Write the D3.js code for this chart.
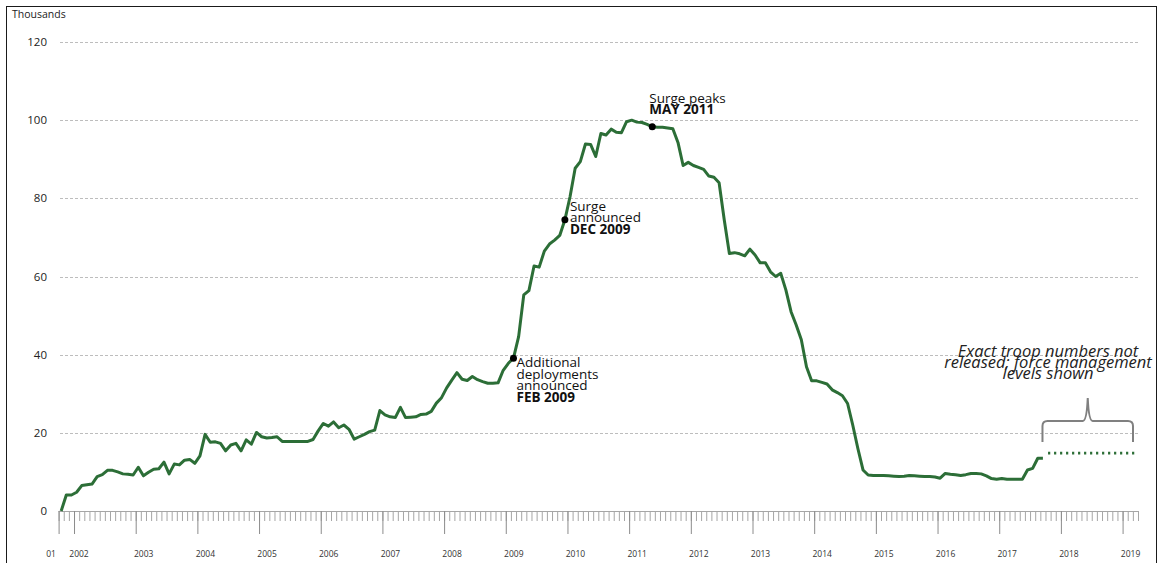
<!DOCTYPE html>
<html>
<head>
<meta charset="utf-8">
<title>Troop levels</title>
<script src="https://d3js.org/d3.v7.min.js"></script>
<style>
  html, body { margin: 0; background: #fff; }
  svg { display: block; font-family: "Open Sans", sans-serif; }
</style>
</head>
<body>
<script>
// one value per month, month 0 = Oct 2001 (thousands of troops)
var troops = [
  0, 4.1, 4.1, 4.8, 6.5, 6.7, 6.9, 8.8, 9.3, 10.4,
  10.4, 10.0, 9.5, 9.4, 9.2, 11.2, 9.0, 9.9, 10.7, 10.8,
  12.5, 9.5, 12.0, 11.8, 13.0, 13.2, 12.2, 14.1, 19.6, 17.6,
  17.7, 17.3, 15.4, 16.9, 17.3, 15.4, 18.2, 17.1, 20.1, 19.0,
  18.7, 18.8, 19.0, 17.8, 17.8, 17.8, 17.8, 17.8, 17.8, 18.3,
  20.5, 22.4, 21.7, 22.8, 21.3, 22.0, 20.9, 18.4, 19.0, 19.6,
  20.3, 20.7, 25.7, 24.6, 24.1, 23.9, 26.5, 23.9, 24.0, 24.1,
  24.7, 24.8, 25.5, 27.6, 29.0, 31.5, 33.5, 35.4, 33.7, 33.4,
  34.4, 33.6, 33.1, 32.7, 32.7, 32.8, 36.0, 37.8, 39.1, 44.6,
  55.3, 56.4, 62.7, 62.4, 66.5, 68.3, 69.3, 70.5, 74.5, 80.4,
  87.7, 89.4, 93.9, 93.8, 90.7, 96.6, 96.2, 97.7, 96.9, 96.8,
  99.6, 100.0, 99.5, 99.4, 98.9, 98.3, 98.2, 98.2, 98.0, 97.8,
  94.3, 88.4, 89.2, 88.4, 87.9, 87.4, 85.7, 85.4, 84.0, 74.5,
  65.9, 66.1, 65.8, 65.3, 67.0, 65.5, 63.5, 63.5, 61.2, 60.0,
  60.8, 56.5, 51.0, 47.6, 43.8, 36.9, 33.3, 33.3, 32.9, 32.5,
  31.0, 30.3, 29.5, 27.5, 22.0, 16.0, 10.5, 9.2, 9.1, 9.1,
  9.1, 9.0, 8.9, 8.8, 8.9, 9.1, 9.0, 8.9, 8.8, 8.8,
  8.7, 8.4, 9.6, 9.4, 9.3, 9.1, 9.3, 9.6, 9.6, 9.5,
  9.0, 8.3, 8.1, 8.3, 8.1, 8.1, 8.1, 8.1, 10.5, 10.9,
  13.5, 13.5
];
// force management level, months 192 (Oct 2017) .. 209 (Mar 2019)
var plannedMonths = d3.range(192, 210);
var plannedLevel = 14.8;

var yTicks = [0, 20, 40, 60, 80, 100, 120];
var yearLabels = ["2002","2003","2004","2005","2006","2007","2008","2009","2010",
                  "2011","2012","2013","2014","2015","2016","2017","2018","2019"];
var yearStartMonths = d3.range(3, 210, 12);   // January of each year
var totalMonths = 210;

var events = [
  {month: 88,  lines: ["Additional", "deployments", "announced"], bold: "FEB 2009", dx: 3,  dy: 9},
  {month: 98,  lines: ["Surge", "announced"],                     bold: "DEC 2009", dx: 5,  dy: -9},
  {month: 115, lines: ["Surge peaks"],                            bold: "MAY 2011", dx: -3, dy: -24}
];
var noteLines = ["Exact troop numbers not", "released; force management", "levels shown"];

var W = 1159, H = 563;
var svg = d3.select("body").append("svg").attr("width", W).attr("height", H);

var x = d3.scaleLinear().domain([0, totalMonths]).range([58.6, 1138]);
var y = d3.scaleLinear().domain([0, 120]).range([511, 42]);

// frame
svg.append("rect").attr("x", 6.5).attr("y", 6.5).attr("width", 1150).attr("height", 620)
   .attr("fill", "none").attr("stroke", "#1a1a1a").attr("stroke-width", 1);

svg.append("text").attr("x", 12).attr("y", 18).attr("font-size", 10.5).attr("fill", "#222")
   .text("Thousands");

// gridlines
svg.append("g").selectAll("line").data(yTicks.filter(function(d) { return d > 0; }))
  .enter().append("line")
  .attr("x1", 60).attr("x2", 1138)
  .attr("y1", function(d) { return Math.round(y(d)) + 0.5; })
  .attr("y2", function(d) { return Math.round(y(d)) + 0.5; })
  .attr("stroke", "#bdbdbd").attr("stroke-dasharray", "3,2");

svg.append("g").selectAll("text").data(yTicks).enter().append("text")
  .attr("x", 47).attr("y", function(d) { return y(d); }).attr("dy", "0.35em")
  .attr("text-anchor", "end").attr("font-size", 11.5).attr("fill", "#222")
  .text(function(d) { return d; });

// x axis: monthly minor ticks, yearly major ticks
var minorAxis = d3.axisBottom(x).tickValues(d3.range(0, totalMonths + 1))
  .tickSize(10).tickFormat("");
var gMinor = svg.append("g").attr("transform", "translate(0,511)").call(minorAxis);
gMinor.select(".domain").attr("stroke", "#a6a6a6").attr("d", "M" + x(0) + ",0.5H" + x(totalMonths));
gMinor.selectAll(".tick line").attr("stroke", "#a6a6a6");

var majorAxis = d3.axisBottom(x).tickValues([0].concat(yearStartMonths))
  .tickSize(23).tickFormat("");
var gMajor = svg.append("g").attr("transform", "translate(0,511)").call(majorAxis);
gMajor.select(".domain").remove();
gMajor.selectAll(".tick line").attr("stroke", "#8c8c8c");

svg.append("g").selectAll("text").data(yearLabels).enter().append("text")
  .attr("x", function(d, i) { return x(yearStartMonths[i]) + (i === 0 ? 5 : 8); })
  .attr("y", 557).attr("text-anchor", "middle").attr("font-size", 8.5).attr("fill", "#333")
  .text(function(d) { return d; });
svg.append("text").attr("x", 51).attr("y", 557).attr("text-anchor", "middle")
  .attr("font-size", 8.5).attr("fill", "#333").text("01");

// troop line
var line = d3.line()
  .x(function(d, i) { return x(i + 0.5); })
  .y(function(d) { return y(d); });
svg.append("path").datum(troops).attr("d", line)
  .attr("fill", "none").attr("stroke", "#2c6e37").attr("stroke-width", 3)
  .attr("stroke-linejoin", "round");

// planned force level (dotted)
svg.append("path").datum(plannedMonths)
  .attr("d", d3.line().x(function(m) { return x(m + 0.5); }).y(function() { return y(plannedLevel); }))
  .attr("fill", "none").attr("stroke", "#2c6e37").attr("stroke-width", 2.6)
  .attr("stroke-dasharray", "2.2,3.8");

// bracket
var bl = x(plannedMonths[0]) - 3, br = x(plannedMonths[plannedMonths.length - 1] + 1) - 5;
var bm = (bl + br) / 2, bTop = 421, bBot = 442, bTip = 398;
svg.append("path")
  .attr("d", "M" + bl + "," + bBot + "V" + (bTop + 5) + "Q" + bl + "," + bTop + " " + (bl + 5) + "," + bTop +
             "H" + (bm - 5) + "Q" + (bm - 1) + "," + bTop + " " + bm + "," + bTip +
             "Q" + (bm + 1) + "," + bTop + " " + (bm + 5) + "," + bTop +
             "H" + (br - 5) + "Q" + br + "," + bTop + " " + br + "," + (bTop + 5) + "V" + bBot)
  .attr("fill", "none").attr("stroke", "#808080").attr("stroke-width", 2);

var note = svg.append("text").attr("font-size", 16.5).attr("font-style", "italic")
  .attr("fill", "#222").attr("text-anchor", "middle");
noteLines.forEach(function(t, i) {
  note.append("tspan").attr("x", 1048).attr("y", 357 + i * 11).text(t);
});

// event markers
var ev = svg.append("g").selectAll("g").data(events).enter().append("g");
ev.append("circle")
  .attr("cx", function(d) { return x(d.month + 0.5); })
  .attr("cy", function(d) { return y(troops[d.month]); })
  .attr("r", 3.5).attr("fill", "#000");
ev.each(function(d) {
  var g = d3.select(this);
  var tx = x(d.month + 0.5) + d.dx, ty = y(troops[d.month]) + d.dy;
  var t = g.append("text").attr("font-size", 13.5).attr("fill", "#111");
  d.lines.forEach(function(s, i) {
    t.append("tspan").attr("x", tx).attr("y", ty + i * 11.6).text(s);
  });
  t.append("tspan").attr("x", tx).attr("y", ty + d.lines.length * 11.6)
    .attr("font-weight", "bold").text(d.bold);
});
</script>
</body>
</html>
